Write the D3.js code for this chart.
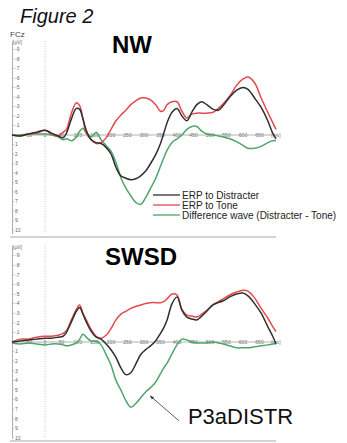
<!DOCTYPE html>
<html>
<head>
<meta charset="utf-8">
<script src="https://cdn.jsdelivr.net/npm/d3@7"></script>
<style>
  html, body { margin: 0; padding: 0; background: #fff; }
  svg { display: block; font-family: Arial, "Liberation Sans", sans-serif; }
</style>
</head>
<body>
<div id="chart"></div>
<script>
// sample times (ms) shared by every wave
const times = [-100, -75, -50, -25, 0, 20, 40, 55, 65, 80, 95, 105, 115, 125, 140, 155, 170, 185, 200, 215,
  230, 245, 260, 275, 290, 305, 320, 335, 350, 360, 370, 385, 400, 415, 430, 445, 460, 475, 490, 510,
  525, 540, 560, 580, 600, 615, 635, 655, 675, 690, 700]

// NW group (µV, negative up)
const nwDistracter = [0, 0.1, -0.1, -0.3, -0.5, -0.2, 0.1, 0.3, -0.2, -1.7, -2.8, -2.7, -1.7, -0.5, 0.5, 0.8, 0.9, 1.3, 2.0, 3.4,
  4.3, 4.55, 4.7, 4.6, 4.3, 3.8, 3.0, 2.1, 0.9, -0.2, -1.3, -2.4, -2.8, -2.0, -1.5, -2.4, -3.2, -3.5, -3.2, -2.7,
  -2.6, -3.1, -4.0, -4.7, -5.0, -4.8, -3.9, -2.9, -1.5, -0.2, 0.4]
const nwTone = [0, 0.1, -0.1, -0.2, -0.5, -0.1, 0.1, -0.3, -0.6, -2.3, -3.4, -3.1, -1.7, -0.2, 0.5, 0.9, 0.8, 0.3, -0.6, -1.5,
  -2.1, -2.6, -3.2, -3.6, -3.9, -3.9, -3.7, -3.2, -2.5, -2.6, -3.2, -3.5, -3.5, -2.5, -1.8, -2.2, -2.3, -2.3, -2.3, -2.4,
  -2.8, -3.3, -4.1, -5.2, -5.9, -6.1, -5.5, -3.9, -2.4, -1.3, -0.6]
const nwDiff = [0, 0, -0.1, -0.1, -0.1, 0, 0.2, 0.5, 0.4, 0.6, 0.2, -0.4, -0.7, -0.2, 0.2, -0.3, 0.5, 1.1, 1.7, 2.9,
  4.5, 5.6, 6.4, 7.1, 7.3, 6.6, 5.6, 4.6, 3.3, 2.4, 1.6, 0.8, 0.4, 0, -0.6, -0.9, -0.9, -0.4, -0.1, 0,
  0.1, 0.2, 0.4, 0.7, 1.1, 1.4, 1.4, 1.2, 0.8, 0.6, 0.6]

// SWSD group
const swsdDistracter = [0, -0.1, -0.2, -0.3, -0.4, -0.4, -0.5, -0.6, -1.0, -2.1, -3.2, -3.6, -2.9, -2.1, -1.1, -0.5, -0.3, 0.2, 0.8, 1.6,
  2.7, 3.4, 3.2, 2.3, 1.3, 0.8, 0.4, -0.1, -0.9, -1.5, -2.3, -4.0, -4.7, -3.3, -2.6, -2.4, -2.3, -2.7, -3.2, -3.9,
  -4.1, -4.3, -4.7, -5.0, -5.1, -4.8, -4.0, -3.0, -1.6, -0.6, 0.2]
const swsdTone = [0, -0.3, -0.3, -0.5, -0.6, -0.6, -0.7, -0.9, -1.2, -2.3, -3.4, -3.85, -3.0, -2.3, -1.3, -0.6, -0.4, -0.7, -1.4, -2.3,
  -2.9, -3.2, -3.5, -3.7, -3.85, -4.0, -4.1, -4.1, -4.1, -4.2, -4.5, -5.0, -4.9, -3.4, -2.8, -2.7, -2.6, -2.9, -3.3, -3.9,
  -4.2, -4.5, -4.9, -5.2, -5.4, -5.3, -4.6, -3.5, -2.5, -1.6, -1.1]
const swsdDiff = [0.1, 0.2, 0.1, 0.2, 0.3, 0.2, 0.2, 0.3, 0.4, 0.3, 0.1, -0.3, -0.8, -0.5, -0.1, -0.1, 0.3, 1.3, 2.4, 4.0,
  5.0, 6.1, 6.8, 6.4, 5.8, 5.2, 4.75, 4.2, 3.3, 2.7, 2.2, 1.2, 0.3, -0.3, -0.2, 0, 0.1, 0.1, 0.1, 0,
  0.1, 0.2, 0.4, 0.6, 0.6, 0.6, 0.5, 0.4, 0.3, 0.2, 0.2]

const yTicks = [-9, -8, -7, -6, -5, -4, -3, -2, -1, 1, 2, 3, 4, 5, 6, 7, 8, 9, 10]
const xTicks = [-50, 0, 50, 100, 150, 200, 250, 300, 350, 400, 450, 500, 550, 600, 650]
const xUnit = '[ms]'
const legendLabels = ['ERP to Distracter', 'ERP to Tone', 'Difference wave (Distracter - Tone)']
const p3aLabel = 'P3aDISTR'
const p3aTip = { t: 318, v: 5.6 }

const COLORS = { distracter: '#2f2f2f', tone: '#e5484f', diff: '#4ea56b' }

const W = 347, H = 443
const svg = d3.select('#chart').append('svg').attr('width', W).attr('height', H)

svg.append('defs').append('marker')
  .attr('id', 'arrow')
  .attr('viewBox', '0 -5 10 10')
  .attr('refX', 10).attr('refY', 0)
  .attr('markerWidth', 5).attr('markerHeight', 5)
  .attr('orient', 'auto')
  .append('path').attr('d', 'M0,-4L10,0L0,4').attr('fill', '#333')

const x = d3.scaleLinear().domain([-100, 700]).range([12, 276])

const panels = [
  { title: 'NW', titleX: 112, titleY: 53, axisTop: 41, frameY: 237, range: [49.5, 230], unitY: 44,
    series: [['diff', nwDiff], ['tone', nwTone], ['distracter', nwDistracter]], legend: true },
  { title: 'SWSD', titleX: 105, titleY: 265, axisTop: 246, frameY: 441, range: [255.6, 438], unitY: 249,
    series: [['diff', swsdDiff], ['tone', swsdTone], ['distracter', swsdDistracter]], legend: false }
]

svg.append('text').attr('x', 20).attr('y', 23)
  .attr('font-size', 20).attr('font-style', 'italic').attr('fill', '#111').text('Figure 2')
svg.append('text').attr('x', 10).attr('y', 37)
  .attr('font-size', 8).attr('fill', '#444').text('FCz')

panels.forEach((p, pi) => {
  const y = d3.scaleLinear().domain([-9, 10]).range(p.range)
  const g = svg.append('g')

  // panel bottom frame
  g.append('line').attr('x1', 10).attr('x2', 276).attr('y1', p.frameY).attr('y2', p.frameY)
    .attr('stroke', '#c4c4c4').attr('stroke-width', 1.5)

  // stimulus onset marker
  g.append('line').attr('x1', x(0)).attr('x2', x(0)).attr('y1', p.axisTop).attr('y2', p.frameY - 3)
    .attr('stroke', '#b0b0b0').attr('stroke-width', 0.7).attr('stroke-dasharray', '1,1.5')

  // y axis
  g.append('line').attr('x1', 12.5).attr('x2', 12.5).attr('y1', p.axisTop).attr('y2', p.frameY - 3)
    .attr('stroke', '#9a9a9a').attr('stroke-width', 0.8)
  g.append('text').attr('x', 13).attr('y', p.unitY).attr('font-size', 5).attr('fill', '#666').text('[µV]')
  const yt = g.append('g').selectAll('g').data(yTicks).enter().append('g')
    .attr('transform', d => `translate(12.5,${y(d)})`)
  yt.append('line').attr('x2', 1.5).attr('stroke', '#9a9a9a').attr('stroke-width', 0.6)
  yt.append('text').attr('x', 2.5).attr('dy', '0.35em').attr('font-size', 5).attr('fill', '#666')
    .text(d => d)

  // time axis along zero
  g.append('line').attr('x1', x(-100)).attr('x2', x(700)).attr('y1', y(0)).attr('y2', y(0))
    .attr('stroke', '#a0a0a0').attr('stroke-width', 0.8)
  g.append('g').selectAll('text').data(xTicks).enter().append('text')
    .attr('x', d => x(d)).attr('y', y(0)).attr('dy', '0.35em')
    .attr('text-anchor', 'middle').attr('font-size', 5).attr('fill', '#777')
    .text(d => d)
  g.append('text').attr('x', x(700)).attr('y', y(0)).attr('dy', '0.35em')
    .attr('text-anchor', 'middle').attr('font-size', 5).attr('fill', '#777').text(xUnit)

  // waves
  const line = d3.line()
    .x((d, i) => x(times[i]))
    .y(d => y(d))
    .curve(d3.curveCatmullRom.alpha(0.5))
  p.series.forEach(([key, vals]) => {
    g.append('path').datum(vals)
      .attr('d', line)
      .attr('fill', 'none')
      .attr('stroke', COLORS[key])
      .attr('stroke-width', 1.5)
      .attr('stroke-linejoin', 'round')
  })

  g.append('text').attr('x', p.titleX).attr('y', p.titleY)
    .attr('font-size', 24).attr('font-weight', 'bold').attr('fill', '#000').text(p.title)

  if (p.legend) {
    const keys = ['distracter', 'tone', 'diff']
    const lg = g.append('g').selectAll('g').data(keys).enter().append('g')
      .attr('transform', (d, i) => `translate(153,${195 + i * 10})`)
    lg.append('line').attr('x2', 27).attr('stroke', d => COLORS[d]).attr('stroke-width', 1.3)
    lg.append('text').attr('x', 29).attr('dy', '0.35em').attr('font-size', 10).attr('fill', '#222')
      .text((d, i) => legendLabels[i])
  }

  if (pi === 1) {
    const tx = x(p3aTip.t), ty = y(p3aTip.v)
    g.append('line').attr('x1', tx + 29).attr('y1', ty + 25).attr('x2', tx).attr('y2', ty)
      .attr('stroke', '#333').attr('stroke-width', 0.8).attr('marker-end', 'url(#arrow)')
    g.append('text').attr('x', tx + 38).attr('y', ty + 28)
      .attr('font-size', 22).attr('fill', '#111').text(p3aLabel)
  }
})
</script>
</body>
</html>
